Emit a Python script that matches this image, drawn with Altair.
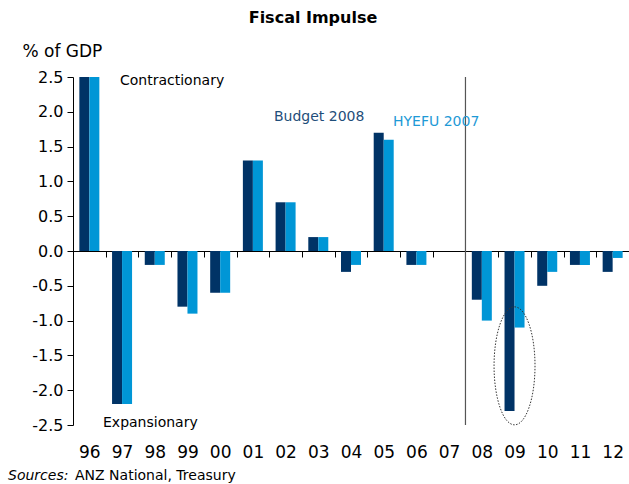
import altair as alt
import pandas as pd

years = ["96", "97", "98", "99", "00", "01", "02", "03", "04", "05", "06", "07",
         "08", "09", "10", "11", "12"]
budget_2008 = [2.5, -2.2, -0.2, -0.8, -0.6, 1.3, 0.7, 0.2, -0.3, 1.7, -0.2, None,
               -0.7, -2.3, -0.5, -0.2, -0.3]
hyefu_2007 = [2.5, -2.2, -0.2, -0.9, -0.6, 1.3, 0.7, 0.2, -0.2, 1.6, -0.2, None,
              -1.0, -1.1, -0.3, -0.2, -0.1]
series_names = ["Budget 2008", "HYEFU 2007"]
series_colors = ["#003366", "#0096D6"]
y_ticks = [-2.5, -2.0, -1.5, -1.0, -0.5, 0.0, 0.5, 1.0, 1.5, 2.0, 2.5]

rows = []
for i, yr in enumerate(years):
    for name, vals in zip(series_names, [budget_2008, hyefu_2007]):
        if vals[i] is not None:
            rows.append({"year": yr, "series": name, "value": vals[i]})
df = pd.DataFrame(rows)

FONT = "DejaVu Sans"
W, H = 556, 348

xscale = alt.Scale(domain=years, paddingInner=0, paddingOuter=0)
yscale = alt.Scale(domain=[-2.5, 2.5], nice=False, zero=False)

xaxis = alt.Axis(title=None, labelAngle=0, tickBand="extent",
                 offset=-H / 2, tickSize=6, labelPadding=187,
                 domainColor="black", tickColor="black",
                 labelColor="black", labelFont=FONT, labelFontSize=17,
                 labelBaseline="top", labelOverlap=False)
yaxis = alt.Axis(values=y_ticks, grid=False, tickSize=6,
                 labelExpr="replace(format(datum.value, '.1f'), '\u2212', '-')",
                 labelFont=FONT, labelFontSize=16, labelColor="black",
                 labelPadding=4, labelOverlap=False, labelFlush=False,
                 labelBound=False,
                 domainColor="black", tickColor="black",
                 title="% of GDP", titleAngle=0, titleAlign="left",
                 titleBaseline="alphabetic", titleX=-51, titleY=-21,
                 titleFont=FONT, titleFontSize=17, titleFontWeight="normal",
                 titleColor="black")

bars = alt.Chart(df).mark_bar().encode(
    x=alt.X("year:N", scale=xscale, sort=years, axis=xaxis),
    xOffset=alt.XOffset("series:N", sort=series_names,
                        scale=alt.Scale(domain=series_names, paddingInner=0,
                                        paddingOuter=0.635)),
    y=alt.Y("value:Q", scale=yscale, axis=yaxis),
    color=alt.Color("series:N", scale=alt.Scale(domain=series_names, range=series_colors),
                    legend=None),
)

divider = alt.Chart(pd.DataFrame({"year": ["08"]})).mark_rule(
    color="#555555", strokeWidth=1.2
).encode(
    x=alt.X("year:N", scale=xscale, bandPosition=0, axis=xaxis),
    y=alt.value(0),
    y2=alt.value(H),
)

ellipse_path = ("M0,-1 C0.1917,-1 0.347,-0.5523 0.347,0 C0.347,0.5523 0.1917,1 0,1 "
                "C-0.1917,1 -0.347,0.5523 -0.347,0 C-0.347,-0.5523 -0.1917,-1 0,-1 Z")
ellipse = alt.Chart(pd.DataFrame({"year": ["09"], "value": [-1.65]})).mark_point(
    shape=ellipse_path, filled=False, stroke="#333333", strokeWidth=1,
    strokeDash=[1.5, 1.5], size=118 * 118, opacity=1
).encode(
    x=alt.X("year:N", scale=xscale, axis=xaxis),
    y=alt.Y("value:Q", scale=yscale, axis=yaxis),
)

def label(text, x, y, color="black", size=14, weight="normal", style="normal",
          align="left"):
    return alt.Chart(pd.DataFrame({"t": [text]})).mark_text(
        align=align, baseline="middle", font=FONT, fontSize=size, color=color,
        fontWeight=weight, fontStyle=style
    ).encode(text="t:N", x=alt.value(x), y=alt.value(y))

texts = [
    label("Fiscal Impulse", 240, -59, size=16, weight="bold", align="center"),
    label("Contractionary", 47, 4),
    label("Expansionary", 30, 346),
    label("Budget 2008", 201, 40, color="#1F4E7A"),
    label("HYEFU 2007", 320, 45, color="#1E9AD6"),
    label("Sources:", -65, 399, style="italic"),
    label("ANZ National, Treasury", 2, 399),
]

chart = alt.layer(bars, divider, ellipse, *texts).properties(
    width=W, height=H,
    background="white",
    autosize=alt.AutoSizeParams(type="none"),
    padding={"left": 73, "top": 77, "right": 0, "bottom": 59},
).configure_view(stroke=None).configure_axis(labelOverlap=False)

chart.save("out.html", embed_options={"renderer": "svg", "actions": False})
